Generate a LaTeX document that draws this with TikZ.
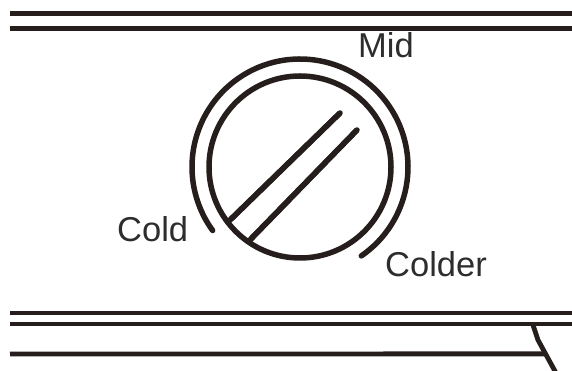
\documentclass[tikz,border=0pt]{standalone}
\usepackage{fontspec}
\setmainfont{Liberation Sans}
\usepackage{xcolor}
\usepackage{tikz}
\usetikzlibrary{calc}
\definecolor{Ink}{RGB}{38,30,28}
\definecolor{LblC}{RGB}{45,45,45}
\tikzset{
  rail/.style={line width=4.8pt,Ink},
  dial/.style={line width=5.5pt,Ink,line cap=round},
  slot/.style={line width=5.5pt,Ink,line cap=round},
  lbl/.style={anchor=base west,inner sep=0pt,text=LblC,
              font=\fontsize{34.5pt}{40pt}\selectfont},
}

\begin{document}
\begin{tikzpicture}[x=1pt,y=1pt]
  \useasboundingbox (0,0) rectangle (572,371);
  % shelf rails
  \foreach \y in {357.5,342.5,58,47}{
    \draw[rail] (10,\y)--(572,\y);
  }
  \coordinate (k1) at (533,46); \coordinate (k2) at (538,31);
  \coordinate (k3) at (556,-2);
  \draw[rail] (k1)--(k2)--(k3);
  \draw[rail] (10,17)--($(k2)!0.42!(k3)$);
  % knob
  \coordinate (c) at (300,204);
  \draw[dial] (c) circle[radius=91];
  \draw[dial] ($(c)+(-55.4:108)$) arc[start angle=-55.4,end angle=216,radius=108];
  \coordinate (s1a) at (228,149); \coordinate (s1b) at (340,258);
  \coordinate (s2a) at (248,129); \coordinate (s2b) at (357,241);
  \draw[slot,line cap=butt] (s1a)--(s1b);
  \draw[slot] ($(s1a)!0.03!(s1b)$)--(s1b);
  \draw[slot,line cap=butt] (s2a)--(s2b);
  \draw[slot] ($(s2a)!0.03!(s2b)$)--(s2b);
  % settings
  \node[lbl] (mid) at (358,313) {Mid};
  \node[lbl] (cold) at (117,129) {Cold};
  \node[lbl] (colder) at (385,94) {Colder};
\end{tikzpicture}
\end{document}
